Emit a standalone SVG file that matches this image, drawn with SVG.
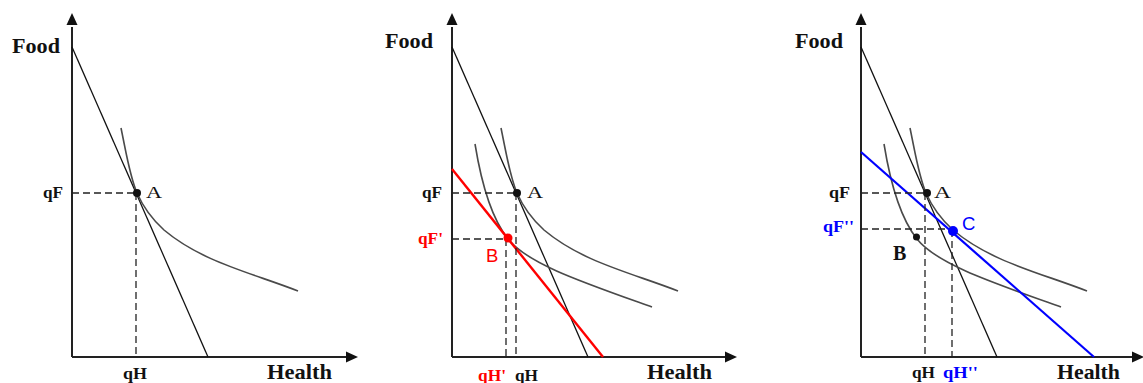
<svg xmlns="http://www.w3.org/2000/svg" width="1143" height="383" viewBox="0 0 1143 383">
<style>
.ax{stroke:#222;stroke-width:2;fill:none}
.bl{stroke:#111;stroke-width:1.3;fill:none}
.ic{stroke:#4a4a4a;stroke-width:1.6;fill:none}
.ds{stroke:#222;stroke-width:1.3;stroke-dasharray:7 4;fill:none}
.red{stroke:#ff0000;stroke-width:2.4;fill:none}
.blue{stroke:#0000ff;stroke-width:2.2;fill:none}
.big{font-family:"Liberation Serif","Times New Roman",serif;font-weight:bold;font-size:21px;fill:#111}
.sm{font-family:"Liberation Serif","Times New Roman",serif;font-weight:bold;font-size:16px;fill:#111}
.pt{font-family:"Liberation Serif","Times New Roman",serif;font-size:16px;fill:#111}
.sans{font-family:"Liberation Sans",Arial,sans-serif;font-size:18.5px}
</style>
<defs>
<path id="ah" d="M0,0 L-12,-5.5 L-12,5.5 Z" fill="#111"/>
<path id="icU" d="M49,-229 C55,-200 58,-180 65,-164 C72,-148 81,-137 92,-127 C130,-95 180,-84 226,-66"/>
<path id="icL" d="M23,-213 C30,-170 40,-138 56,-118 C76,-93 130,-75 200,-50"/>
</defs>

<!-- Panel 1 -->
<g id="panel1" transform="translate(72,357)">
  <g id="p1-connectors">
    <line class="ax" x1="0" y1="0" x2="0" y2="-330"/>
    <use href="#ah" transform="translate(0,-344) rotate(-90)"/>
    <line class="ax" x1="0" y1="0" x2="275" y2="0"/>
    <use href="#ah" transform="translate(286,0)"/>
    <line class="bl" x1="0" y1="-310" x2="136" y2="0"/>
    <use href="#icU" class="ic"/>
    <line class="ds" x1="0" y1="-164" x2="64" y2="-164"/>
    <line class="ds" x1="64" y1="-164" x2="64" y2="0"/>
  </g>
  <g id="p1-A"><circle cx="65" cy="-164" r="4" fill="#111"/></g>
</g>
<g id="panel1-labels">
  <text class="big" x="12" y="53" textLength="48" lengthAdjust="spacingAndGlyphs">Food</text>
  <text class="sm" x="43" y="198" textLength="20" lengthAdjust="spacingAndGlyphs">qF</text>
  <text class="pt" x="146" y="198" textLength="16" lengthAdjust="spacingAndGlyphs">A</text>
  <text class="sm" x="123" y="379" textLength="24" lengthAdjust="spacingAndGlyphs">qH</text>
  <text class="big" x="267" y="379" textLength="65" lengthAdjust="spacingAndGlyphs">Health</text>
</g>

<!-- Panel 2 -->
<g id="panel2" transform="translate(452,357)">
  <g id="p2-connectors">
    <line class="ax" x1="0" y1="0" x2="0" y2="-330"/>
    <use href="#ah" transform="translate(0,-344) rotate(-90)"/>
    <line class="ax" x1="0" y1="0" x2="274" y2="0"/>
    <use href="#ah" transform="translate(285,0)"/>
    <line class="bl" x1="0" y1="-310" x2="136" y2="0"/>
    <use href="#icU" class="ic"/>
    <use href="#icL" class="ic"/>
    <line class="red" x1="0" y1="-188" x2="151" y2="0"/>
    <line class="ds" x1="0" y1="-164" x2="64" y2="-164"/>
    <line class="ds" x1="64" y1="-164" x2="64" y2="0"/>
    <line class="ds" x1="0" y1="-118" x2="55" y2="-118"/>
    <line class="ds" x1="54" y1="-118" x2="54" y2="0"/>
  </g>
  <g id="p2-A"><circle cx="65" cy="-164" r="4" fill="#111"/></g>
  <g id="p2-B"><circle cx="56" cy="-119" r="4.5" fill="#ff0000"/></g>
</g>
<g id="panel2-labels">
  <text class="big" x="385" y="48" textLength="48" lengthAdjust="spacingAndGlyphs">Food</text>
  <text class="sm" x="422" y="198" textLength="20" lengthAdjust="spacingAndGlyphs">qF</text>
  <text class="pt" x="527" y="198" textLength="16" lengthAdjust="spacingAndGlyphs">A</text>
  <text class="sm" x="418" y="244" style="fill:#ff0000" textLength="25" lengthAdjust="spacingAndGlyphs">qF'</text>
  <text class="sans" x="486" y="262" fill="#ff0000">B</text>
  <text class="sm" x="478" y="381" style="fill:#ff0000" textLength="28" lengthAdjust="spacingAndGlyphs">qH'</text>
  <text class="sm" x="515" y="381" textLength="23" lengthAdjust="spacingAndGlyphs">qH</text>
  <text class="big" x="647" y="379" textLength="65" lengthAdjust="spacingAndGlyphs">Health</text>
</g>

<!-- Panel 3 -->
<g id="panel3" transform="translate(861,357)">
  <g id="p3-connectors">
    <line class="ax" x1="0" y1="0" x2="0" y2="-330"/>
    <use href="#ah" transform="translate(0,-344) rotate(-90)"/>
    <line class="ax" x1="0" y1="0" x2="272" y2="0"/>
    <use href="#ah" transform="translate(283,0)"/>
    <line class="bl" x1="0" y1="-310" x2="136" y2="0"/>
    <use href="#icU" class="ic"/>
    <use href="#icL" class="ic"/>
    <line class="blue" x1="0" y1="-205" x2="233" y2="0"/>
    <line class="ds" x1="0" y1="-164" x2="64" y2="-164"/>
    <line class="ds" x1="64" y1="-164" x2="64" y2="0"/>
    <line class="ds" x1="0" y1="-128" x2="91" y2="-128"/>
    <line class="ds" x1="91" y1="-127" x2="91" y2="0"/>
  </g>
  <g id="p3-A"><circle cx="66" cy="-164" r="4" fill="#111"/></g>
  <g id="p3-B"><circle cx="55.5" cy="-120" r="3.5" fill="#111"/></g>
  <g id="p3-C"><circle cx="92" cy="-126" r="5" fill="#0000ff"/></g>
</g>
<g id="panel3-labels">
  <text class="big" x="795" y="48" textLength="48" lengthAdjust="spacingAndGlyphs">Food</text>
  <text class="sm" x="829" y="198" textLength="21" lengthAdjust="spacingAndGlyphs">qF</text>
  <text class="pt" x="934" y="198" textLength="17" lengthAdjust="spacingAndGlyphs">A</text>
  <text class="sm" x="823" y="232" style="fill:#0000ff" textLength="31" lengthAdjust="spacingAndGlyphs">qF''</text>
  <text class="sans" x="962" y="230" fill="#0000ff">C</text>
  <text class="big" x="893" y="260" style="font-size:20px">B</text>
  <text class="sm" x="912" y="378" textLength="23" lengthAdjust="spacingAndGlyphs">qH</text>
  <text class="sm" x="943" y="378" style="fill:#0000ff" textLength="35" lengthAdjust="spacingAndGlyphs">qH''</text>
  <text class="big" x="1057" y="379" textLength="63" lengthAdjust="spacingAndGlyphs">Health</text>
</g>
</svg>
